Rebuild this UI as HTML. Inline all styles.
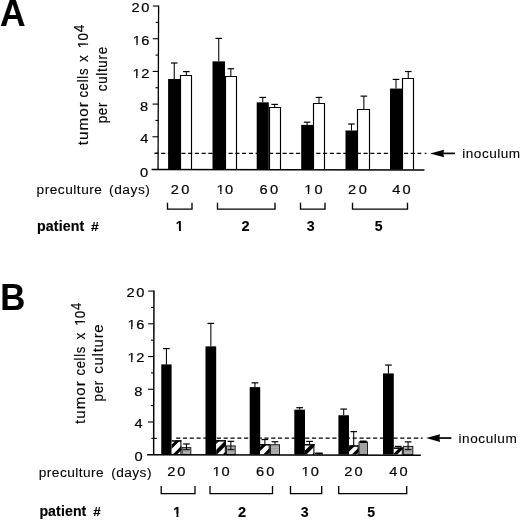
<!DOCTYPE html>
<html><head><meta charset="utf-8"><title>Figure</title>
<style>
html,body{margin:0;padding:0;background:#fff;}
body{width:520px;height:520px;overflow:hidden;}
svg{display:block;font-family:"Liberation Sans",sans-serif;fill:#000;}
text{stroke:#000;stroke-width:0.1px;}
.d text,text.d{stroke-width:0.2px;}
.r,.d.r text{stroke-width:0.15px;}
text[font-weight=bold]{stroke-width:0.15px;}
</style></head><body>
<svg width="520" height="520" viewBox="0 0 520 520">
<defs>
<filter id="soft" filterUnits="userSpaceOnUse" x="-10" y="-10" width="540" height="540"><feGaussianBlur stdDeviation="0.35"/></filter>
<pattern id="gray" width="4" height="1.6" patternUnits="userSpaceOnUse">
<rect width="4" height="1.6" fill="#b4b4b4"/><rect width="4" height="0.7" fill="#9a9a9a"/>
</pattern>
</defs>
<rect width="520" height="520" fill="#fff"/>
<g id="fig" filter="url(#soft)">

<g id="panelA">
<rect x="168.10" y="78.99" width="12.30" height="90.61" fill="#000"/>
<path d="M174.25 78.99V63.00" stroke="#000" stroke-width="1.05" fill="none"/><path d="M170.95 63.00H177.55" stroke="#000" stroke-width="1.2" fill="none"/>
<path d="M180.50 169.60V75.50H191.50V169.60" fill="#fff" stroke="#000" stroke-width="1.15"/>
<path d="M186.35 75.46V71.61" stroke="#000" stroke-width="1.05" fill="none"/><path d="M183.05 71.61H189.65" stroke="#000" stroke-width="1.2" fill="none"/>
<rect x="212.50" y="61.36" width="12.50" height="108.24" fill="#000"/>
<path d="M218.75 61.36V38.40" stroke="#000" stroke-width="1.05" fill="none"/><path d="M215.45 38.40H222.05" stroke="#000" stroke-width="1.2" fill="none"/>
<path d="M225.50 169.60V76.50H236.50V169.60" fill="#fff" stroke="#000" stroke-width="1.15"/>
<path d="M230.85 76.12V68.74" stroke="#000" stroke-width="1.05" fill="none"/><path d="M227.55 68.74H234.15" stroke="#000" stroke-width="1.2" fill="none"/>
<rect x="256.70" y="102.36" width="12.10" height="67.24" fill="#000"/>
<path d="M262.75 102.36V97.44" stroke="#000" stroke-width="1.05" fill="none"/><path d="M259.45 97.44H266.05" stroke="#000" stroke-width="1.2" fill="none"/>
<path d="M269.50 169.60V107.50H280.50V169.60" fill="#fff" stroke="#000" stroke-width="1.15"/>
<path d="M274.70 107.28V104.41" stroke="#000" stroke-width="1.05" fill="none"/><path d="M271.40 104.41H278.00" stroke="#000" stroke-width="1.2" fill="none"/>
<rect x="301.20" y="124.91" width="11.80" height="44.69" fill="#000"/>
<path d="M307.10 124.91V122.20" stroke="#000" stroke-width="1.05" fill="none"/><path d="M303.80 122.20H310.40" stroke="#000" stroke-width="1.2" fill="none"/>
<path d="M313.50 169.60V103.50H324.50V169.60" fill="#fff" stroke="#000" stroke-width="1.15"/>
<path d="M319.00 102.93V97.44" stroke="#000" stroke-width="1.05" fill="none"/><path d="M315.70 97.44H322.30" stroke="#000" stroke-width="1.2" fill="none"/>
<rect x="345.50" y="130.49" width="12.00" height="39.11" fill="#000"/>
<path d="M351.50 130.49V124.01" stroke="#000" stroke-width="1.05" fill="none"/><path d="M348.20 124.01H354.80" stroke="#000" stroke-width="1.2" fill="none"/>
<path d="M357.50 169.60V109.50H369.50V169.60" fill="#fff" stroke="#000" stroke-width="1.15"/>
<path d="M363.85 109.41V96.13" stroke="#000" stroke-width="1.05" fill="none"/><path d="M360.55 96.13H367.15" stroke="#000" stroke-width="1.2" fill="none"/>
<rect x="390.00" y="88.58" width="12.00" height="81.02" fill="#000"/>
<path d="M396.00 88.58V79.40" stroke="#000" stroke-width="1.05" fill="none"/><path d="M392.70 79.40H399.30" stroke="#000" stroke-width="1.2" fill="none"/>
<path d="M402.50 169.60V78.50H413.50V169.60" fill="#fff" stroke="#000" stroke-width="1.15"/>
<path d="M408.25 78.58V71.53" stroke="#000" stroke-width="1.05" fill="none"/><path d="M404.95 71.53H411.55" stroke="#000" stroke-width="1.2" fill="none"/>
<path d="M158.60 5.45L158.05 169.75" stroke="#000" stroke-width="1.3" fill="none"/>
<path d="M151.55 169.45L424.50 170.10" stroke="#000" stroke-width="1.5" fill="none"/>
<path d="M155.26 153.11H158.11" stroke="#000" stroke-width="1.1" fill="none"/>
<path d="M152.46 136.77H158.16" stroke="#000" stroke-width="1.1" fill="none"/>
<path d="M155.37 120.43H158.22" stroke="#000" stroke-width="1.1" fill="none"/>
<path d="M152.57 104.09H158.27" stroke="#000" stroke-width="1.1" fill="none"/>
<path d="M155.47 87.75H158.32" stroke="#000" stroke-width="1.1" fill="none"/>
<path d="M152.68 71.41H158.38" stroke="#000" stroke-width="1.1" fill="none"/>
<path d="M155.59 55.07H158.44" stroke="#000" stroke-width="1.1" fill="none"/>
<path d="M152.79 38.73H158.49" stroke="#000" stroke-width="1.1" fill="none"/>
<path d="M155.69 22.39H158.54" stroke="#000" stroke-width="1.1" fill="none"/>
<path d="M152.90 6.05H158.60" stroke="#000" stroke-width="1.1" fill="none"/>
<path d="M154.4 153.40H416" stroke="#000" stroke-width="1.25" stroke-dasharray="4.1 2.646" fill="none"/>
<path d="M417.5 153.40H421.3M424.7 153.40H426.4" stroke="#000" stroke-width="1.25" fill="none"/>
<path d="M442 153.40H455" stroke="#000" stroke-width="1.7" fill="none"/><path d="M430.0 153.40L444.1 149.65L443.3 153.40L444.1 157.15Z" fill="#000"/>
<text transform="translate(462.32 157.50) scale(1.0000 1)" font-size="13.60" letter-spacing="0.481">inoculum</text>
<g class="d" transform="translate(131.52 12.00) scale(1.1000 1)"><text x="0.00 8.82" font-size="13.30">20</text></g>
<g class="d" transform="translate(132.64 45.35) scale(1.1000 1)"><text x="0.00 7.86" font-size="13.30">16</text><rect x="0.40" y="-2.17" width="2.92" height="3.37" fill="#fff"/><rect x="4.54" y="-2.17" width="2.77" height="3.37" fill="#fff"/></g>
<g class="d" transform="translate(132.39 78.20) scale(1.1000 1)"><text x="0.00 8.16" font-size="13.30">12</text><rect x="0.40" y="-2.17" width="2.92" height="3.37" fill="#fff"/><rect x="4.54" y="-2.17" width="2.77" height="3.37" fill="#fff"/></g>
<text class="d" transform="translate(139.94 110.70) scale(1.1000 1)" font-size="13.30">8</text>
<text class="d" transform="translate(140.23 143.20) scale(1.1000 1)" font-size="13.30">4</text>
<text class="d" transform="translate(140.01 177.00) scale(1.1000 1)" font-size="13.30">0</text>
<text transform="translate(36.51 194.10) scale(1.0000 1)" font-size="13.70" letter-spacing="0.505">preculture</text>
<text transform="translate(109.08 194.10) scale(1.0000 1)" font-size="13.70" letter-spacing="0.545">(days)</text>
<g class="d" transform="translate(170.77 193.60) scale(1.1000 1)"><text x="0.00 9.63" font-size="13.30">20</text></g>
<g class="d" transform="translate(216.59 193.60) scale(1.1000 1)"><text x="0.00 7.71" font-size="13.30">10</text><rect x="0.40" y="-2.17" width="2.92" height="3.37" fill="#fff"/><rect x="4.54" y="-2.17" width="2.77" height="3.37" fill="#fff"/></g>
<g class="d" transform="translate(259.47 193.60) scale(1.1000 1)"><text x="0.00 9.54" font-size="13.30">60</text></g>
<g class="d" transform="translate(304.19 193.60) scale(1.1000 1)"><text x="0.00 9.34" font-size="13.30">10</text><rect x="0.40" y="-2.17" width="2.92" height="3.37" fill="#fff"/><rect x="4.54" y="-2.17" width="2.77" height="3.37" fill="#fff"/></g>
<g class="d" transform="translate(348.02 193.60) scale(1.1000 1)"><text x="0.00 9.72" font-size="13.30">20</text></g>
<g class="d" transform="translate(392.13 193.60) scale(1.1000 1)"><text x="0.00 9.39" font-size="13.30">40</text></g>
<text transform="translate(36.88 231.00) scale(1.0000 1)" font-size="14.20" font-weight="bold" letter-spacing="0.160">patient</text>
<text transform="translate(90.99 230.60) scale(1.0506 1)" font-size="13.24" font-weight="bold">#</text>
<g class="d" transform="translate(175.78 230.90) scale(1.0000 1)"><text x="0.00" font-size="13.80" font-weight="bold">1</text><rect x="0.28" y="-2.55" width="2.92" height="3.75" fill="#fff"/><rect x="5.14" y="-2.55" width="2.73" height="3.75" fill="#fff"/></g>
<text transform="translate(241.49 230.90) scale(1.0568 1)" font-size="13.80" font-weight="bold">2</text>
<text transform="translate(306.65 230.90) scale(1.0247 1)" font-size="13.80" font-weight="bold">3</text>
<text transform="translate(374.78 230.90) scale(1.0145 1)" font-size="13.80" font-weight="bold">5</text>
<text transform="translate(0.02 26.30) scale(0.9609 1)" font-size="36.81" font-weight="bold">A</text>
<text class="r" transform="translate(87.80 145.23) rotate(-90) scale(1.1202 1.03)" font-size="13.60" letter-spacing="0.900">tumor</text>
<text class="r" transform="translate(87.80 97.49) rotate(-90) scale(0.9685 1.03)" font-size="13.60" letter-spacing="0.700">cells</text>
<text class="r" transform="translate(87.80 62.10) rotate(-90) scale(0.9856 1.03)" font-size="13.60">x</text>
<g class="d r" transform="translate(88.00 48.13) rotate(-90) scale(1.0000 1.03)"><text x="0.00 7.63" font-size="13.60">10</text><rect x="0.41" y="-2.20" width="2.99" height="3.40" fill="#fff"/><rect x="4.64" y="-2.20" width="2.84" height="3.40" fill="#fff"/></g>
<text class="r" transform="translate(83.70 32.34) rotate(-90) scale(1.0000 1.03)" font-size="13.60">4</text>
<text class="r" transform="translate(106.90 123.37) rotate(-90) scale(0.9893 1.03)" font-size="13.60" letter-spacing="0.700">per</text>
<text class="r" transform="translate(106.90 91.20) rotate(-90) scale(0.9846 1.03)" font-size="13.60" letter-spacing="0.700">culture</text>
<text transform="translate(458.52 442.50) scale(1.0000 1)" font-size="13.60" letter-spacing="0.553">inoculum</text>
<g class="d" transform="translate(126.52 296.90) scale(1.1000 1)"><text x="0.00 8.82" font-size="13.30">20</text></g>
<g class="d" transform="translate(127.39 329.30) scale(1.1000 1)"><text x="0.00 8.09" font-size="13.30">16</text><rect x="0.40" y="-2.17" width="2.92" height="3.37" fill="#fff"/><rect x="4.54" y="-2.17" width="2.77" height="3.37" fill="#fff"/></g>
<g class="d" transform="translate(127.39 361.80) scale(1.1000 1)"><text x="0.00 8.16" font-size="13.30">12</text><rect x="0.40" y="-2.17" width="2.92" height="3.37" fill="#fff"/><rect x="4.54" y="-2.17" width="2.77" height="3.37" fill="#fff"/></g>
<text class="d" transform="translate(134.34 395.90) scale(1.1000 1)" font-size="13.30">8</text>
<text class="d" transform="translate(134.38 428.05) scale(1.1000 1)" font-size="13.30">4</text>
<text class="d" transform="translate(134.41 461.20) scale(1.1000 1)" font-size="13.30">0</text>
<text transform="translate(38.81 477.20) scale(1.0000 1)" font-size="13.70" letter-spacing="0.438">preculture</text>
<text transform="translate(111.18 477.30) scale(1.0000 1)" font-size="13.70" letter-spacing="0.445">(days)</text>
<g class="d" transform="translate(167.27 476.30) scale(1.1000 1)"><text x="0.00 9.09" font-size="13.30">20</text></g>
<g class="d" transform="translate(212.49 476.30) scale(1.1000 1)"><text x="0.00 8.16" font-size="13.30">10</text><rect x="0.40" y="-2.17" width="2.92" height="3.37" fill="#fff"/><rect x="4.54" y="-2.17" width="2.77" height="3.37" fill="#fff"/></g>
<g class="d" transform="translate(256.02 476.30) scale(1.1000 1)"><text x="0.00 9.27" font-size="13.30">60</text></g>
<g class="d" transform="translate(301.59 476.30) scale(1.1000 1)"><text x="0.00 8.43" font-size="13.30">10</text><rect x="0.40" y="-2.17" width="2.92" height="3.37" fill="#fff"/><rect x="4.54" y="-2.17" width="2.77" height="3.37" fill="#fff"/></g>
<g class="d" transform="translate(344.27 476.30) scale(1.1000 1)"><text x="0.00 9.27" font-size="13.30">20</text></g>
<g class="d" transform="translate(389.13 476.30) scale(1.1000 1)"><text x="0.00 9.39" font-size="13.30">40</text></g>
<text transform="translate(39.38 516.40) scale(1.0000 1)" font-size="14.20" font-weight="bold" letter-spacing="0.077">patient</text>
<text transform="translate(93.20 516.20) scale(1.0218 1)" font-size="13.24" font-weight="bold">#</text>
<g class="d" transform="translate(173.28 516.50) scale(1.0000 1)"><text x="0.00" font-size="13.80" font-weight="bold">1</text><rect x="0.28" y="-2.55" width="2.92" height="3.75" fill="#fff"/><rect x="5.14" y="-2.55" width="2.73" height="3.75" fill="#fff"/></g>
<text transform="translate(237.99 516.50) scale(1.0568 1)" font-size="13.80" font-weight="bold">2</text>
<text transform="translate(300.65 516.50) scale(1.0247 1)" font-size="13.80" font-weight="bold">3</text>
<text transform="translate(367.28 516.50) scale(1.0145 1)" font-size="13.80" font-weight="bold">5</text>
<text transform="translate(0.14 309.70) scale(0.9441 1)" font-size="36.81" font-weight="bold">B</text>
<text class="r" transform="translate(85.00 423.98) rotate(-90) scale(1.1136 1.03)" font-size="13.60" letter-spacing="0.900">tumor</text>
<text class="r" transform="translate(85.00 375.59) rotate(-90) scale(0.9650 1.03)" font-size="13.60" letter-spacing="0.700">cells</text>
<text class="r" transform="translate(85.00 339.60) rotate(-90) scale(1.0013 1.03)" font-size="13.60">x</text>
<g class="d r" transform="translate(84.90 325.83) rotate(-90) scale(1.0000 1.03)"><text x="0.00 7.63" font-size="13.60">10</text><rect x="0.41" y="-2.20" width="2.99" height="3.40" fill="#fff"/><rect x="4.64" y="-2.20" width="2.84" height="3.40" fill="#fff"/></g>
<text class="r" transform="translate(80.80 310.02) rotate(-90) scale(0.9559 1.03)" font-size="13.60">4</text>
<text class="r" transform="translate(103.00 401.47) rotate(-90) scale(0.9818 1.03)" font-size="13.60" letter-spacing="0.700">per</text>
<text class="r" transform="translate(103.00 373.67) rotate(-90) scale(1.0965 1.03)" font-size="13.60" letter-spacing="0.700">culture</text>
<path d="M167.5 202.8V209.1H192V202.8" stroke="#000" stroke-width="1.35" fill="none"/>
<path d="M217.5 202.8V209.1H275V202.8" stroke="#000" stroke-width="1.35" fill="none"/>
<path d="M300.5 202.8V209.1H325V202.8" stroke="#000" stroke-width="1.35" fill="none"/>
<path d="M352.5 202.8V209.1H407.5V202.8" stroke="#000" stroke-width="1.35" fill="none"/>
</g>
<g id="panelB">
<rect x="161.25" y="364.40" width="10.35" height="90.20" fill="#000"/>
<path d="M166.43 364.40V348.57" stroke="#000" stroke-width="1.05" fill="none"/><path d="M163.08 348.57H169.78" stroke="#000" stroke-width="1.2" fill="none"/>
<clipPath id="hc1"><rect x="171.60" y="440.25" width="9.80" height="14.35"/></clipPath>
<g clip-path="url(#hc1)"><rect x="171.60" y="440.25" width="9.80" height="14.35" fill="#fff"/><path d="M168.60 438.80L184.40 423.00M168.60 449.80L184.40 434.00M168.60 460.80L184.40 445.00M168.60 471.80L184.40 456.00" stroke="#000" stroke-width="3.0" fill="none"/></g>
<path d="M180.90 440.25V454.60" fill="none" stroke="#000" stroke-width="1"/><path d="M171.60 440.95H181.40" fill="none" stroke="#000" stroke-width="1.5"/>
<rect x="182.10" y="447.56" width="8.70" height="7.04" fill="url(#gray)" stroke="#222" stroke-width="1"/>
<path d="M186.45 449.68V443.94" stroke="#000" stroke-width="1.05" fill="none"/><path d="M183.10 443.94H189.80" stroke="#000" stroke-width="1.2" fill="none"/>
<path d="M183.10 449.68H189.80" stroke="#000" stroke-width="1" fill="none"/>
<rect x="205.50" y="346.36" width="10.70" height="108.24" fill="#000"/>
<path d="M210.85 346.36V323.40" stroke="#000" stroke-width="1.05" fill="none"/><path d="M207.50 323.40H214.20" stroke="#000" stroke-width="1.2" fill="none"/>
<clipPath id="hc2"><rect x="216.20" y="440.09" width="9.60" height="14.51"/></clipPath>
<g clip-path="url(#hc2)"><rect x="216.20" y="440.09" width="9.60" height="14.51" fill="#fff"/><path d="M213.20 444.20L228.80 428.60M213.20 455.45L228.80 439.85M213.20 466.70L228.80 451.10" stroke="#000" stroke-width="3.9" fill="none"/></g>
<path d="M225.30 440.09V454.60" fill="none" stroke="#000" stroke-width="1"/><path d="M216.20 440.79H225.80" fill="none" stroke="#000" stroke-width="1.5"/>
<rect x="226.50" y="445.92" width="8.70" height="8.68" fill="url(#gray)" stroke="#222" stroke-width="1"/>
<path d="M230.85 449.68V441.32" stroke="#000" stroke-width="1.05" fill="none"/><path d="M227.50 441.32H234.20" stroke="#000" stroke-width="1.2" fill="none"/>
<path d="M227.50 449.68H234.20" stroke="#000" stroke-width="1" fill="none"/>
<rect x="249.70" y="387.11" width="10.50" height="67.49" fill="#000"/>
<path d="M254.95 387.11V382.85" stroke="#000" stroke-width="1.05" fill="none"/><path d="M251.60 382.85H258.30" stroke="#000" stroke-width="1.2" fill="none"/>
<clipPath id="hc3"><rect x="260.00" y="444.10" width="9.70" height="10.50"/></clipPath>
<g clip-path="url(#hc3)"><rect x="260.00" y="444.10" width="9.70" height="10.50" fill="#fff"/><path d="M257.00 441.00L272.70 425.30M257.00 452.00L272.70 436.30M257.00 463.00L272.70 447.30M257.00 474.00L272.70 458.30" stroke="#000" stroke-width="3.2" fill="none"/></g>
<path d="M269.20 444.10V454.60" fill="none" stroke="#000" stroke-width="1"/><path d="M260.00 444.80H269.70" fill="none" stroke="#000" stroke-width="1.5"/>
<path d="M264.85 444.10V439.51" stroke="#000" stroke-width="1.05" fill="none"/><path d="M261.50 439.51H268.20" stroke="#000" stroke-width="1.2" fill="none"/>
<rect x="270.50" y="444.69" width="9.00" height="9.91" fill="url(#gray)" stroke="#222" stroke-width="1"/>
<path d="M275.00 444.19V441.73" stroke="#000" stroke-width="1.05" fill="none"/><path d="M271.65 441.73H278.35" stroke="#000" stroke-width="1.2" fill="none"/>
<rect x="294.30" y="409.66" width="10.70" height="44.94" fill="#000"/>
<path d="M299.65 409.66V407.70" stroke="#000" stroke-width="1.05" fill="none"/><path d="M296.30 407.70H303.00" stroke="#000" stroke-width="1.2" fill="none"/>
<clipPath id="hc4"><rect x="304.60" y="444.10" width="9.80" height="10.50"/></clipPath>
<g clip-path="url(#hc4)"><rect x="304.60" y="444.10" width="9.80" height="10.50" fill="#fff"/><path d="M301.60 445.40L317.40 429.60M301.60 456.60L317.40 440.80M301.60 467.80L317.40 452.00" stroke="#000" stroke-width="3.9" fill="none"/></g>
<path d="M313.90 444.10V454.60" fill="none" stroke="#000" stroke-width="1"/><path d="M304.60 444.80H314.40" fill="none" stroke="#000" stroke-width="1.5"/>
<path d="M309.50 444.10V441.40" stroke="#000" stroke-width="1.05" fill="none"/><path d="M306.15 441.40H312.85" stroke="#000" stroke-width="1.2" fill="none"/>
<rect x="315.00" y="452.50" width="7.90" height="2.1" rx="0.8" fill="#000"/>
<rect x="338.40" y="415.24" width="10.60" height="39.36" fill="#000"/>
<path d="M343.70 415.24V409.09" stroke="#000" stroke-width="1.05" fill="none"/><path d="M340.35 409.09H347.05" stroke="#000" stroke-width="1.2" fill="none"/>
<clipPath id="hc5"><rect x="348.80" y="445.33" width="9.80" height="9.27"/></clipPath>
<g clip-path="url(#hc5)"><rect x="348.80" y="445.33" width="9.80" height="9.27" fill="#fff"/><path d="M345.80 442.70L361.60 426.90M345.80 452.70L361.60 436.90M345.80 462.70L361.60 446.90M345.80 472.70L361.60 456.90" stroke="#000" stroke-width="3.2" fill="none"/></g>
<path d="M358.10 445.33V454.60" fill="none" stroke="#000" stroke-width="1"/><path d="M348.80 446.03H358.60" fill="none" stroke="#000" stroke-width="1.5"/>
<path d="M353.70 445.33V431.64" stroke="#000" stroke-width="1.05" fill="none"/><path d="M350.35 431.64H357.05" stroke="#000" stroke-width="1.2" fill="none"/>
<rect x="359.00" y="441.98" width="8.50" height="12.62" fill="#a2a2a2" stroke="#222" stroke-width="1"/>
<rect x="359.70" y="440.58" width="7.10" height="2.3" rx="0.8" fill="#000"/>
<rect x="383.00" y="373.42" width="10.80" height="81.18" fill="#000"/>
<path d="M388.40 373.42V365.06" stroke="#000" stroke-width="1.05" fill="none"/><path d="M385.05 365.06H391.75" stroke="#000" stroke-width="1.2" fill="none"/>
<clipPath id="hc6"><rect x="393.60" y="447.47" width="9.20" height="7.13"/></clipPath>
<g clip-path="url(#hc6)"><rect x="393.60" y="447.47" width="9.20" height="7.13" fill="#fff"/><path d="M390.60 448.40L405.80 433.20M390.60 458.90L405.80 443.70M390.60 469.40L405.80 454.20" stroke="#000" stroke-width="3.3" fill="none"/></g>
<path d="M402.30 447.47V454.60" fill="none" stroke="#000" stroke-width="1"/><path d="M393.60 448.17H402.80" fill="none" stroke="#000" stroke-width="1.5"/>
<path d="M398.20 447.47V446.40" stroke="#000" stroke-width="1.05" fill="none"/><path d="M394.85 446.40H401.55" stroke="#000" stroke-width="1.2" fill="none"/>
<rect x="403.40" y="446.41" width="9.40" height="8.19" fill="url(#gray)" stroke="#222" stroke-width="1"/>
<path d="M408.10 449.68V441.85" stroke="#000" stroke-width="1.05" fill="none"/><path d="M404.75 441.85H411.45" stroke="#000" stroke-width="1.2" fill="none"/>
<path d="M404.75 449.68H411.45" stroke="#000" stroke-width="1" fill="none"/>
<path d="M153.95 290.50L153.65 455.00" stroke="#000" stroke-width="1.45" fill="none"/>
<path d="M147.15 454.70L420.80 455.30" stroke="#000" stroke-width="1.5" fill="none"/>
<path d="M151.38 438.34H156.88" stroke="#000" stroke-width="1.1" fill="none"/>
<path d="M148.01 421.98H153.71" stroke="#000" stroke-width="1.1" fill="none"/>
<path d="M150.89 405.62H153.74" stroke="#000" stroke-width="1.1" fill="none"/>
<path d="M148.07 389.26H153.77" stroke="#000" stroke-width="1.1" fill="none"/>
<path d="M150.95 372.90H153.80" stroke="#000" stroke-width="1.1" fill="none"/>
<path d="M148.13 356.54H153.83" stroke="#000" stroke-width="1.1" fill="none"/>
<path d="M151.01 340.18H153.86" stroke="#000" stroke-width="1.1" fill="none"/>
<path d="M148.19 323.82H153.89" stroke="#000" stroke-width="1.1" fill="none"/>
<path d="M151.07 307.46H153.92" stroke="#000" stroke-width="1.1" fill="none"/>
<path d="M148.25 291.10H153.95" stroke="#000" stroke-width="1.1" fill="none"/>
<path d="M176.15 438.05H412.5" stroke="#000" stroke-width="1.25" stroke-dasharray="4.15 2.64" fill="none"/>
<path d="M413.8 438.05H418.3M420.8 438.05H422.7" stroke="#000" stroke-width="1.25" fill="none"/>
<path d="M438 438.05H451.4" stroke="#000" stroke-width="1.7" fill="none"/><path d="M426.1 438.05L440.1 434.20L439.3 438.05L440.1 441.90Z" fill="#000"/>

<path d="M161.2 485.9V493.7H195V485.9" stroke="#000" stroke-width="1.3" fill="none"/>
<path d="M210 485.9V493.7H272.5V485.9" stroke="#000" stroke-width="1.3" fill="none"/>
<path d="M290.5 485.9V493.7H321.7V485.9" stroke="#000" stroke-width="1.3" fill="none"/>
<path d="M338.7 485.9V493.7H406.7V485.9" stroke="#000" stroke-width="1.3" fill="none"/>
</g>
</g></svg></body></html>
